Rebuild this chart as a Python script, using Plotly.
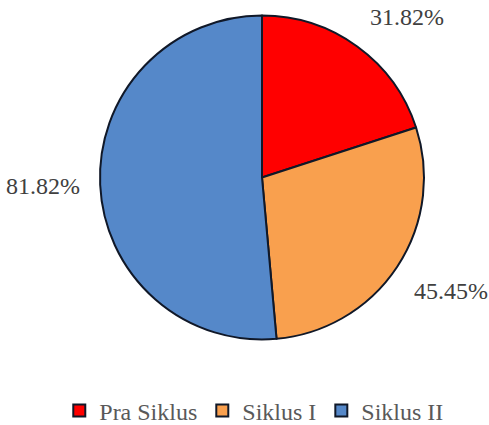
import math
import plotly.graph_objects as go

labels = ["Pra Siklus", "Siklus I", "Siklus II"]
values = [31.82, 45.45, 81.82]
colors = ["#FF0000", "#F9A04E", "#5588C9"]
label_texts = [f"{v:.2f}%" for v in values]

W, H = 489, 425
FONT = "Liberation Serif"
dom_x = [100 / W, 424 / W]
dom_y = [1 - 341 / H, 1 - 14 / H]

fig = go.Figure(go.Pie(
    labels=labels,
    values=values,
    textinfo="none",
    sort=False,
    direction="clockwise",
    rotation=0,
    marker=dict(colors=colors, line=dict(color="#101828", width=2)),
    domain=dict(x=dom_x, y=dom_y),
    hoverinfo="skip",
))

# outside data labels, placed along each slice's mid angle
cx = (dom_x[0] + dom_x[1]) / 2 * W
cy = (1 - (dom_y[0] + dom_y[1]) / 2) * H
r = min((dom_x[1] - dom_x[0]) * W, (dom_y[1] - dom_y[0]) * H) / 2
total = sum(values)
acc = 0.0
for v, t in zip(values, label_texts):
    mid = (acc + v / 2) / total * 2 * math.pi
    acc += v
    s, c = math.sin(mid), math.cos(mid)
    d = 1.12 * r
    px = cx + d * s
    py = cy - d * c
    xa = "left" if s > 0.3 else ("right" if s < -0.3 else "center")
    ya = "bottom" if c > 0.3 else ("top" if c < -0.3 else "middle")
    fig.add_annotation(
        x=px / W, y=1 - py / H, xref="paper", yref="paper",
        text=t, showarrow=False, xanchor=xa, yanchor=ya,
        font=dict(family=FONT, size=24, color="#404040"),
        borderpad=0,
    )

fig.update_layout(
    width=W, height=H,
    margin=dict(l=0, r=0, t=0, b=0, autoexpand=False),
    paper_bgcolor="white",
    plot_bgcolor="white",
    font=dict(family=FONT),
    showlegend=True,
    legend=dict(
        orientation="h", x=0.52, xanchor="center", y=-0.02, yanchor="bottom",
        font=dict(family=FONT, size=24, color="#595959"),
        itemsizing="constant", traceorder="normal", itemwidth=30,
    ),
)
fig.write_html("out.html")
